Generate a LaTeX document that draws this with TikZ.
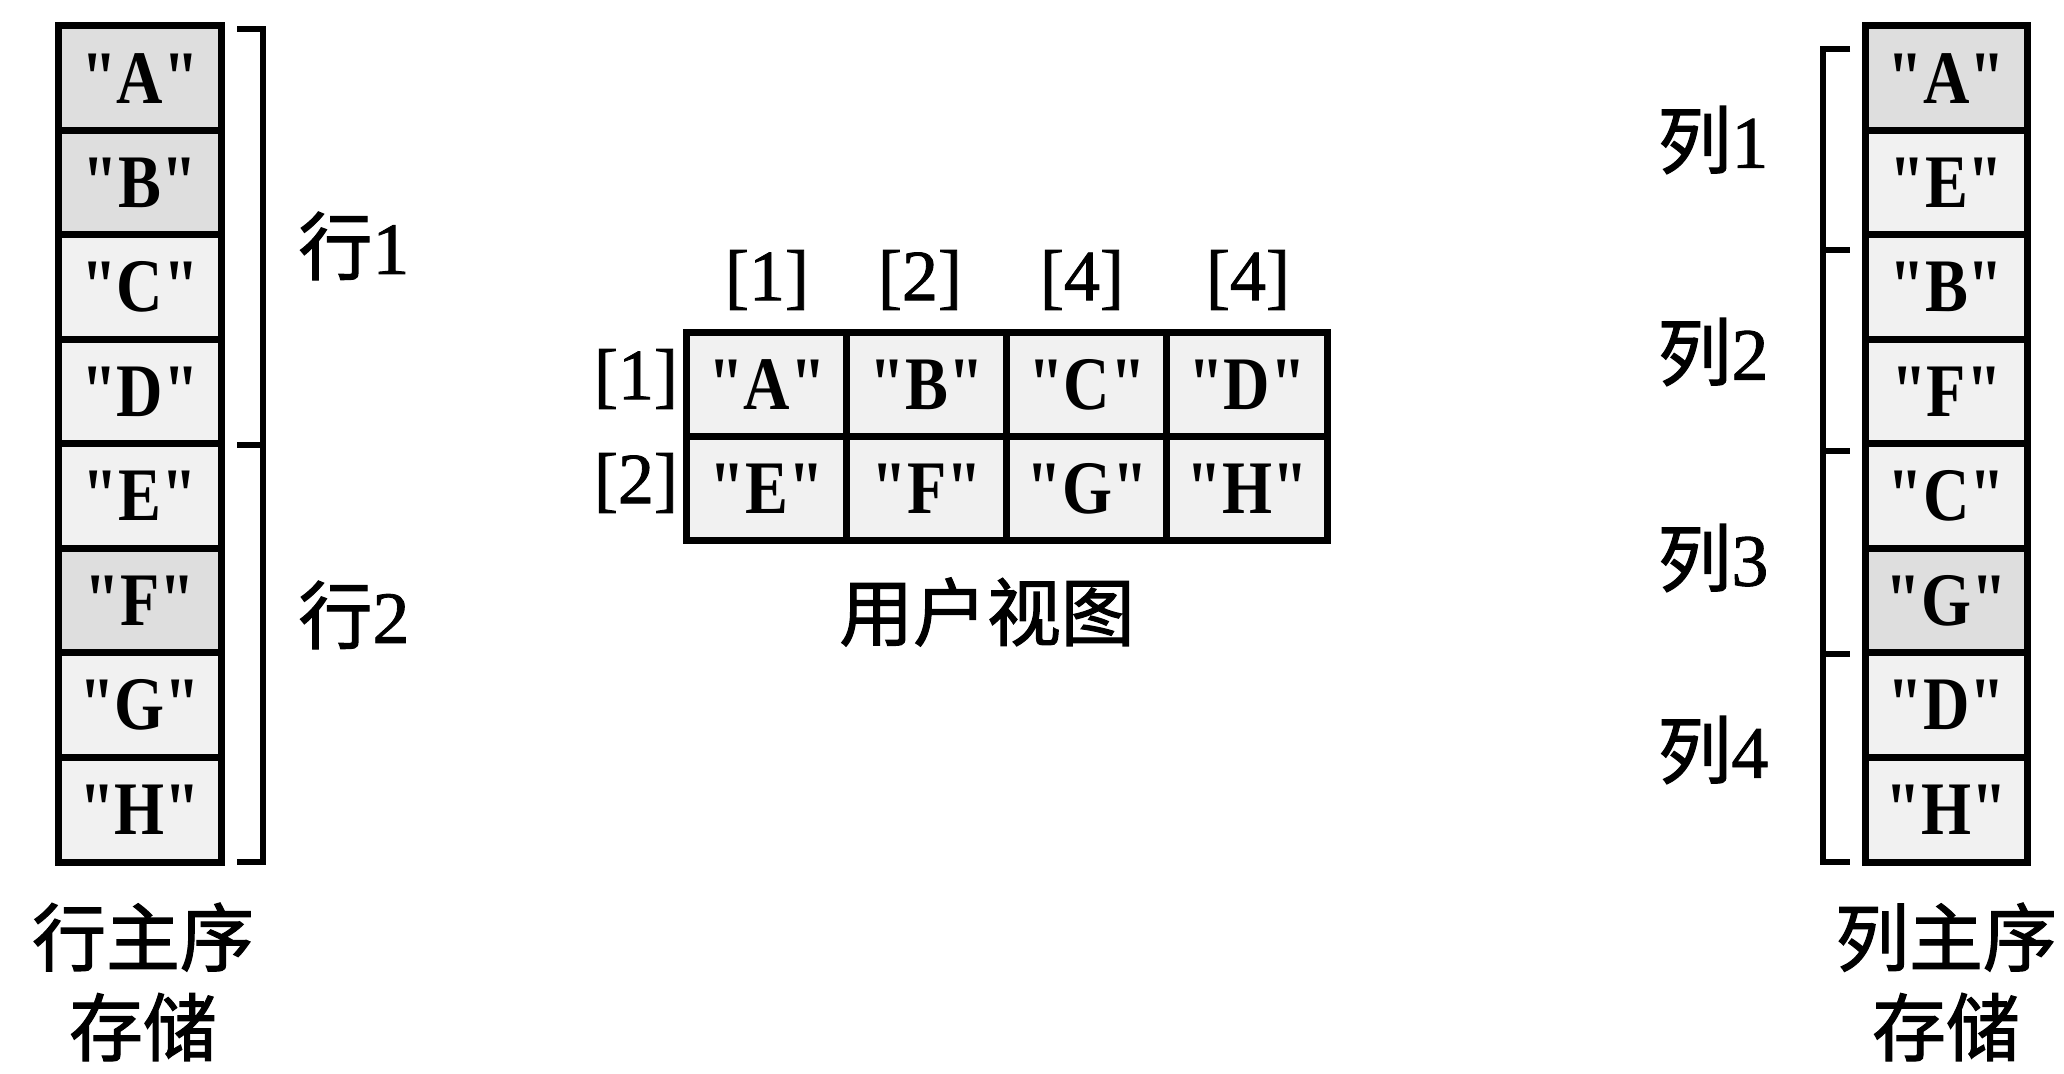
\documentclass[tikz,border=0pt]{standalone}
\usepackage{fontspec}
\setmainfont{Liberation Serif}
\newfontfamily\cjk[FakeBold=1.6]{Noto Sans CJK SC}
\newfontfamily\lblfont[FakeBold=1.2]{Liberation Serif}
\newfontfamily\cellfont[FakeStretch=0.85]{Liberation Serif}
\begin{document}
\begin{tikzpicture}[x=0.01cm,y=-0.01cm,
  cellbox/.style={draw=black, line width=2pt, inner sep=0pt,
    minimum width=1.62cm, minimum height=1.045cm,
    font=\cellfont\bfseries\fontsize{21.5}{21.5}\selectfont},
  midbox/.style={cellbox, minimum width=1.6cm, minimum height=1.04cm},
  dense/.style={fill=gray!26},
  light/.style={fill=gray!11},
  lbl/.style={font=\lblfont\fontsize{21}{21}\selectfont, inner sep=0pt},
  cjklabel/.style={font=\cjk\fontsize{21}{25.6}\selectfont, inner sep=0pt, align=center},
  idx/.style={font=\lblfont\fontsize{20.5}{20.5}\selectfont, inner sep=0pt},
  brk/.style={line width=1.6pt}]
\useasboundingbox (0,0) rectangle (2064,1074);
\fill[white] (0,0) rectangle (2064,1074);

% left column: row-major storage
\foreach \t/\s [count=\i] in {A/dense,B/dense,C/light,D/light,E/light,F/dense,G/light,H/light}
  \node[cellbox,\s] (L\i) at (140,{26+104.5*(\i-0.5)}) {"\t"};

% right column: column-major storage
\foreach \t/\s [count=\i] in {A/dense,E/light,B/light,F/light,C/light,G/dense,D/light,H/light}
  \node[cellbox,\s] (R\i) at (1946.5,{26+104.5*(\i-0.5)}) {"\t"};

% middle grid: user view
\foreach \t [count=\i] in {A,B,C,D}
  \node[midbox,light] (Ma\i) at ({767+160*(\i-1)},384.5) {"\t"};
\foreach \t [count=\i] in {E,F,G,H}
  \node[midbox,light] (Mb\i) at ({767+160*(\i-1)},488.5) {"\t"};

% left brackets
\draw[brk] (237,29) -- (263,29) -- (263,445) -- (237,445);
\draw[brk] (237,445) -- (263,445) -- (263,862) -- (237,862);

% right brackets
\draw[brk] (1850,49) -- (1823,49) -- (1823,862) -- (1850,862);
\draw[brk] (1823,250) -- (1850,250);
\draw[brk] (1823,451) -- (1850,451);
\draw[brk] (1823,654) -- (1850,654);

% labels
\node[lbl] (r1) at (354,246) {{\cjk 行}1};
\node[lbl] (r2) at (354,615) {{\cjk 行}2};
\node[lbl] (c1) at (1713,140) {{\cjk 列}1};
\node[lbl] (c2) at (1713,352) {{\cjk 列}2};
\node[lbl] (c3) at (1713,558) {{\cjk 列}3};
\node[lbl] (c4) at (1713,750) {{\cjk 列}4};

\node[cjklabel] (lcap) at (143,982) {行主序\\存储};
\node[cjklabel] (rcap) at (1946,982) {列主序\\存储};
\node[cjklabel] (mcap) at (987,612) {用户视图};

\node[idx] (k1) at (767,280) {[1]};
\node[idx] (k2) at (920,280) {[2]};
\node[idx] (k3) at (1082,280) {[4]};
\node[idx] (k4) at (1248,280) {[4]};
\node[idx] (j1) at (636,379) {[1]};
\node[idx] (j2) at (636,483) {[2]};
\end{tikzpicture}
\end{document}
